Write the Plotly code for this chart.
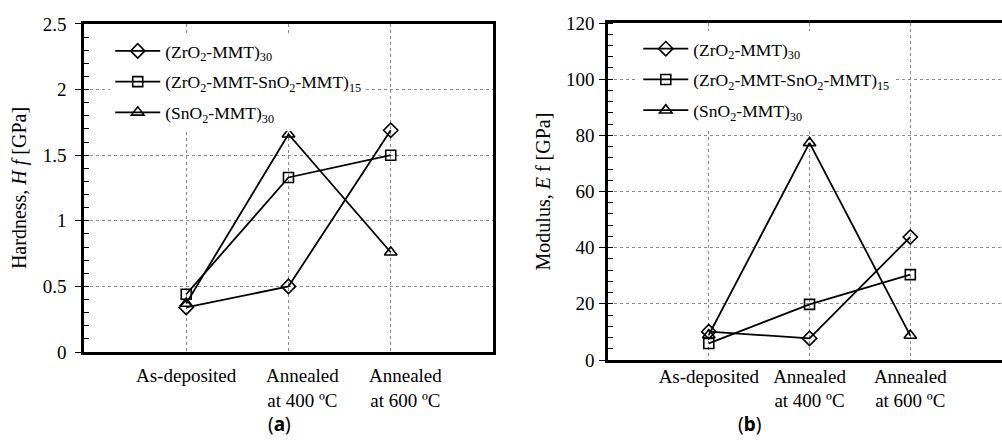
import plotly.graph_objects as go

categories = ["As-deposited", "Annealed<br>at 400 ºC", "Annealed<br>at 600 ºC"]
series_names = ["(ZrO<sub>2</sub>-MMT)<sub>30</sub>",
                "(ZrO<sub>2</sub>-MMT-SnO<sub>2</sub>-MMT)<sub>15</sub>",
                "(SnO<sub>2</sub>-MMT)<sub>30</sub>"]
symbols = ["diamond-open", "square-open", "triangle-up-open"]
marker_sizes = [11, 10, 11]

hardness_zro2 = [0.34, 0.50, 1.69]
hardness_multi = [0.44, 1.33, 1.50]
hardness_sno2 = [0.37, 1.66, 0.76]

modulus_zro2 = [10.1, 7.7, 43.8]
modulus_multi = [5.9, 19.8, 30.4]
modulus_sno2 = [8.9, 77.3, 8.7]

FONT = "Liberation Serif"

fig = go.Figure()

hard = [hardness_zro2, hardness_multi, hardness_sno2]
mod = [modulus_zro2, modulus_multi, modulus_sno2]

for i in range(3):
    fig.add_trace(go.Scatter(
        x=categories, y=hard[i], name=series_names[i], mode="lines+markers",
        legendgroup="a%d" % i,
        line=dict(color="black", width=1.8),
        marker=dict(symbol=symbols[i], size=marker_sizes[i], color="black",
                    line=dict(width=1.6, color="black")),
        xaxis="x", yaxis="y", legend="legend"))
for i in range(3):
    fig.add_trace(go.Scatter(
        x=categories, y=mod[i], name=series_names[i], mode="lines+markers",
        legendgroup="b%d" % i,
        line=dict(color="black", width=1.8),
        marker=dict(symbol=symbols[i], size=marker_sizes[i], color="black",
                    line=dict(width=1.6, color="black")),
        xaxis="x2", yaxis="y2", legend="legend2"))

line_common = dict(showline=True, linecolor="black", linewidth=2.5,
                   gridcolor="#8a8a8a", griddash="dot", gridwidth=1,
                   zeroline=False, automargin=False)
tickfont = dict(family=FONT, size=19, color="black")
titlefont = dict(family=FONT, size=20, color="black")
legfont = dict(family=FONT, size=17.5, color="black")

fig.update_layout(
    width=1002, height=440,
    margin=dict(l=0, r=0, t=0, b=0, autoexpand=False),
    paper_bgcolor="white", plot_bgcolor="white",
    font=dict(family=FONT, color="black", size=18),
    xaxis=dict(domain=[0.0838, 0.492], anchor="y", type="category",
               range=[-1, 3], showticklabels=False, ticks="", mirror=True,
               showgrid=True, **line_common),
    yaxis=dict(domain=[0.2, 0.9455], anchor="x", range=[0, 2.5], dtick=0.5,
               ticks="outside", ticklen=6, tickwidth=1, tickcolor="black", mirror=True,
               tickfont=tickfont, ticklabelstandoff=5,
               minor=dict(dtick=0.1, ticks="inside", ticklen=5, tickwidth=1,
                          tickcolor="black", showgrid=False),
               title=dict(text="Hardness, <i>H</i> <i>f</i> [GPa]", font=titlefont, standoff=11),
               **line_common),
    xaxis2=dict(domain=[0.6068, 1.0], anchor="y2", type="category",
                range=[-1, 2.91], ticks="", mirror=True, showgrid=True,
                tickfont=tickfont, ticklabelstandoff=-3, **line_common),
    yaxis2=dict(domain=[0.1818, 0.9477], anchor="x2", range=[0, 120], dtick=20,
                ticks="outside", ticklen=6, tickwidth=1, tickcolor="black", mirror=False,
                tickfont=tickfont, ticklabelstandoff=1,
                minor=dict(dtick=4, ticks="inside", ticklen=5, tickwidth=1,
                           tickcolor="black", showgrid=False),
                title=dict(text="Modulus, <i>E</i> f [GPa]", font=titlefont, standoff=10),
                **line_common),
    legend=dict(x=0.110, y=0.925, xanchor="left", yanchor="top", bgcolor="white",
                font=legfont, tracegroupgap=5, itemwidth=45),
    legend2=dict(x=0.637, y=0.93, xanchor="left", yanchor="top", bgcolor="white",
                 font=legfont, tracegroupgap=5, itemwidth=45),
)

# Category labels for panel (a)
shifts = [0, 14, 15]
for i, c in enumerate(categories):
    fig.add_annotation(x=c, y=0, xref="x", yref="y", text=c, showarrow=False,
                       yanchor="top", yshift=-11, xshift=shifts[i],
                       font=dict(family=FONT, size=19, color="black"))

fig.add_annotation(x=266 / 1002, y=(440 - 424) / 440, xref="paper", yref="paper",
                   text="(<b>a</b>)", showarrow=False, yanchor="middle",
                   font=dict(family="Noto Sans", size=19, color="black"))
fig.add_annotation(x=763 / 1002, y=(440 - 424) / 440, xref="paper", yref="paper",
                   text="(<b>b</b>)", showarrow=False, yanchor="middle",
                   font=dict(family="Noto Sans", size=19, color="black"))

fig.write_html("out.html", config={"displayModeBar": False},
               post_script="document.body.style.margin='0';document.body.style.overflow='hidden';")
